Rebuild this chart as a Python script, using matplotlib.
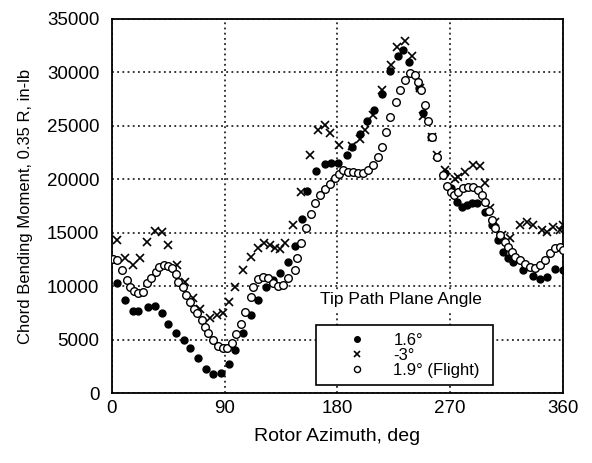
import matplotlib
matplotlib.use("Agg")
import matplotlib.pyplot as plt
from matplotlib.patches import Rectangle

plt.rcParams['font.family'] = ['Liberation Sans', 'DejaVu Sans']

# 1.6 deg (filled dots)
az_16 = [3.7, 10.4, 17, 21, 29, 34.3, 39.6, 45, 51, 57.5, 62, 68.4, 75, 81, 87,
         93.6, 98, 104.8, 111.2, 117, 123.2, 128.5, 133.8, 140.5, 145.8, 151.7,
         155.9, 163, 169.8, 175, 180.4, 187.3, 192, 198, 203.3, 209.1, 215.3,
         221.9, 228.5, 232.5, 237.3, 245.3, 248.5, 255, 259.7, 265.8, 270.5,
         275.1, 279.1, 283.1, 287.1, 291.1, 297.7, 303.1, 308.4, 312.4, 316.3,
         320.4, 328.3, 336.3, 341.6, 347, 353.6, 360]
m_16 = [10270, 8700, 7670, 7670, 8100, 8150, 7450, 6500, 5600, 5000, 4250, 3300,
        2300, 1750, 1850, 2700, 4000, 5600, 7300, 8700, 9950, 10600, 11200,
        12300, 13750, 16250, 18900, 20800, 21400, 21500, 21550, 22300, 23050,
        24200, 25500, 26500, 28000, 30100, 31500, 32100, 31000, 28500, 26200,
        24000, 22100, 20550, 19200, 17900, 17430, 17600, 17750, 17800, 16970,
        15700, 14300, 13200, 12600, 12300, 11500, 11000, 10700, 10900, 11600,
        11500]

# -3 deg (crosses)
az_m3 = [3.7, 10.4, 17, 22.3, 28.2, 34.3, 39.6, 44.9, 51.6, 58.3, 65, 70.2, 78,
         83.5, 88.4, 93.6, 98.4, 104.6, 110.7, 116.5, 121.3, 125.9, 129.9, 133.8,
         138.3, 144.5, 151.1, 158, 164.7, 170, 174, 181.4, 191.3, 198, 202,
         208.6, 215.3, 222.4, 227.2, 233.9, 239.2, 245.8, 248.5, 255.2, 259.2,
         265.8, 273.8, 276.4, 281.8, 288.4, 293.7, 297.7, 301.7, 306, 311, 317.7,
         325.7, 331, 336.3, 343, 347, 352.3, 357.6, 360]
m_m3 = [14300, 12600, 12000, 12600, 14160, 15200, 15100, 13850, 12000, 10400,
        8860, 7900, 7000, 7300, 7450, 8550, 9950, 11500, 12760, 13600, 14070,
        13850, 13540, 13450, 14000, 15700, 18800, 22300, 24600, 25100, 24300,
        23200, 23100, 23800, 24600, 26000, 28350, 30700, 32400, 32900, 31500,
        28500, 25900, 24000, 22300, 20900, 20000, 20200, 20700, 21300, 21200,
        19700, 17300, 16000, 14800, 14500, 15700, 16000, 15700, 15250, 15100,
        15560, 15250, 15700]

# 1.9 deg flight (open circles)
az_19 = [0.5, 3.7, 7.7, 11.7, 14.4, 17.6, 21, 24.5, 28.2, 31.6, 35.1, 37.8, 41.5,
         45, 47.6, 51, 52.9, 56.4, 59, 62.3, 65.5, 67.6, 71.6, 74, 77, 81, 85,
         88.4, 92, 95.5, 98.7, 102.7, 106.4, 110.7, 112.5, 116.5, 120.5, 124.5,
         128.5, 132.5, 136.5, 140.5, 145.8, 148, 150.6, 155, 159, 162.3, 165.8,
         169.8, 173.8, 177.8, 181, 184.6, 188.6, 192.6, 196.6, 200.6, 204.6,
         208.1, 212.6, 215.3, 218.7, 222, 226.7, 229.9, 233.9, 237.9, 241.9,
         244.5, 246.4, 249.8, 252.5, 255.2, 259.2, 264.5, 267.7, 270.3, 273,
         276.4, 280.4, 284.4, 288.4, 292.4, 295.1, 297.7, 301, 303, 305.7, 309.7,
         313.7, 316.3, 319, 321.7, 325.7, 329.7, 333.7, 337.6, 341.6, 345.6,
         349.6, 353.6, 357.6, 360]
m_19 = [12500, 12450, 11500, 10600, 9900, 9570, 9330, 9480, 10270, 10800, 11350,
        11800, 11980, 11900, 11670, 11100, 10400, 9900, 9170, 8550, 7900, 7450,
        6800, 6200, 5600, 4960, 4400, 4180, 4240, 4700, 5500, 6500, 7600, 8950,
        9950, 10640, 10830, 10730, 10320, 10000, 10100, 10730, 11500, 12660,
        14000, 15400, 16750, 17800, 18500, 19060, 19560, 20100, 20500, 20870,
        20700, 20700, 20600, 20550, 20870, 21300, 22100, 23050, 24450, 25800,
        27200, 28350, 29300, 29900, 29750, 29100, 28350, 26950, 25500, 24000,
        22100, 20400, 19400, 18800, 18500, 18840, 19160, 19300, 19300, 19000,
        18530, 17900, 17000, 16200, 15400, 14800, 14160, 13700, 13200, 12750,
        12450, 12100, 11800, 11670, 12000, 12450, 13070, 13540, 13630, 13400]

fig = plt.figure(figsize=(5.92, 4.63), dpi=100)
ax = fig.add_axes([0.189, 0.151, 0.762, 0.808])

ax.plot(az_16, m_16, linestyle="none", marker="o", markersize=5,
        color="black", label="1.6°", zorder=3)
ax.plot(az_m3, m_m3, linestyle="none", marker="x", markersize=6,
        markeredgewidth=1.2, color="black", label="-3°", zorder=3)
ax.plot(az_19, m_19, linestyle="none", marker="o", markersize=5.5,
        markerfacecolor="white", markeredgecolor="black", markeredgewidth=1.0,
        label="1.9° (Flight)", zorder=4)

ax.set_xlim(0, 360)
ax.set_ylim(0, 35000)
ax.set_xticks([0, 90, 180, 270, 360])
ax.set_yticks(range(0, 35001, 5000))
ax.tick_params(axis="both", length=0, labelsize=13.5)
ax.tick_params(axis="y", pad=9)
ax.tick_params(axis="x", pad=5)
ax.grid(True, color="black", linestyle=(0, (1.2, 2.2)), linewidth=1.1, zorder=0)
ax.set_axisbelow(True)
for s in ax.spines.values():
    s.set_linewidth(1.3)

ax.set_xlabel("Rotor Azimuth, deg", fontsize=14, labelpad=8)
ax.set_ylabel("Chord Bending Moment, 0.35 R, in-lb", fontsize=12, labelpad=10)

# white area behind legend title
ax.add_patch(Rectangle((0.452, 0.214), 0.393, 0.062, transform=ax.transAxes,
                       facecolor="white", edgecolor="none", zorder=5))
ax.text(0.64, 0.249, "Tip Path Plane Angle", transform=ax.transAxes,
        ha="center", va="center", fontsize=12.5, zorder=6)

leg = ax.legend(loc="lower left", bbox_to_anchor=(0.452, 0.021, 0.393, 0.193),
                mode="expand", frameon=True, fancybox=False, fontsize=12,
                handletextpad=0.2, labelspacing=0.0, borderpad=0.45,
                handlelength=4.0, borderaxespad=0, markerscale=0.8)
leg.get_frame().set_edgecolor("black")
leg.get_frame().set_linewidth(1.2)
leg.get_frame().set_alpha(1)
leg.set_zorder(6)

fig.savefig("out.png", dpi=100)
